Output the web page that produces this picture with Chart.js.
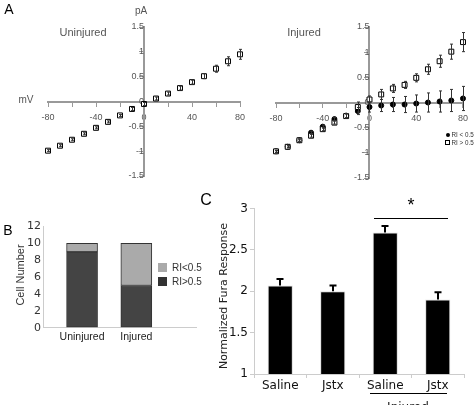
<!DOCTYPE html>
<html>
<head>
<meta charset="utf-8">
<script src="https://cdn.jsdelivr.net/npm/chart.js@4.4.0/dist/chart.umd.min.js"></script>
<style>
body { margin: 0; background: #fff; }
#wrap { position: relative; width: 475px; height: 405px; overflow: hidden; font-family: "Liberation Sans", Arial, sans-serif; }
canvas { position: absolute; left: 0; top: 0; }
.t { position: absolute; white-space: nowrap; line-height: 1; transform: translate(-50%, -50%); }
.l { position: absolute; white-space: nowrap; line-height: 1; transform: translateY(-50%); }
.rot { position: absolute; white-space: nowrap; line-height: 1; transform: translate(-50%, -50%) rotate(-90deg); }
.hl { position: absolute; height: 1.5px; background: #000; }
.sw { position: absolute; box-sizing: border-box; }
</style>
</head>
<body>
<div id="wrap">
  <canvas id="ivUninj" width="475" height="405"></canvas>
  <canvas id="ivInj" width="475" height="405"></canvas>
  <canvas id="cells" width="475" height="405"></canvas>
  <canvas id="fura" width="475" height="405"></canvas>

  <div class="t" style="left:9px;top:9px;font-size:14px;">A</div>
  <div class="t" style="left:141px;top:11px;font-size:10px;color:#555;">pA</div>
  <div class="t" style="left:83px;top:32px;font-size:11px;color:#555;">Uninjured</div>
  <div class="t" style="left:304px;top:32px;font-size:11px;color:#555;">Injured</div>
  <div class="t" style="left:26px;top:100px;font-size:10px;color:#555;">mV</div>

  <div class="sw" style="left:446px;top:133px;width:4px;height:4px;border-radius:50%;background:#000;"></div>
  <div class="l" style="left:451.5px;top:135px;font-size:6.3px;color:#333;">RI &lt; 0.5</div>
  <div class="sw" style="left:445px;top:140px;width:5px;height:5px;border:1px solid #000;"></div>
  <div class="l" style="left:451.5px;top:142.5px;font-size:6.3px;color:#333;">RI &gt; 0.5</div>

  <div class="t" style="left:8px;top:230px;font-size:14px;">B</div>
  <div class="rot" style="left:20px;top:275px;font-size:11px;color:#333;">Cell Number</div>
  <div class="sw" style="left:158px;top:263px;width:9px;height:9px;background:#aaa;"></div>
  <div class="l" style="left:172px;top:267.5px;font-size:10px;color:#333;">RI&lt;0.5</div>
  <div class="sw" style="left:158px;top:277px;width:9px;height:9px;background:#333;"></div>
  <div class="l" style="left:172px;top:281.5px;font-size:10px;color:#333;">RI&gt;0.5</div>

  <div class="t" style="left:206px;top:200px;font-size:16px;">C</div>
  <div class="rot" style="left:223px;top:296px;font-size:11px;color:#222;font-family:'DejaVu Sans',sans-serif;">Normalized Fura Response</div>
  <div class="t" style="left:411px;top:205px;font-size:18px;">*</div>
  <div class="hl" style="left:374px;top:217.5px;width:74px;"></div>
  <div class="hl" style="left:370px;top:392.5px;width:77px;"></div>
  <div style="position:absolute;left:408px;top:401px;transform:translateX(-50%);font-size:12px;line-height:1;font-family:'DejaVu Sans',sans-serif;color:#222;">Injured</div>
</div>
<script>
// A: current-voltage relations
const voltages = [-80, -70, -60, -50, -40, -30, -20, -10, 0, 10, 20, 30, 40, 50, 60, 70, 80];
const uninjuredCurrent = [-0.99, -0.89, -0.77, -0.65, -0.53, -0.41, -0.28, -0.15, -0.05, 0.06, 0.16, 0.27, 0.39, 0.51, 0.66, 0.81, 0.95];
const uninjuredErr = [0.02, 0.02, 0.02, 0.02, 0.02, 0.02, 0.02, 0.03, 0.03, 0.03, 0.03, 0.04, 0.04, 0.05, 0.07, 0.09, 0.1];
const injuredHighRI = [-0.97, -0.88, -0.75, -0.66, -0.53, -0.4, -0.27, -0.09, 0.06, 0.16, 0.28, 0.35, 0.49, 0.66, 0.82, 1.01, 1.2];
const injuredHighErr = [0.02, 0.02, 0.03, 0.03, 0.03, 0.03, 0.04, 0.1, 0.07, 0.1, 0.08, 0.07, 0.08, 0.1, 0.12, 0.15, 0.19];
const injuredLowRI = [-0.97, -0.88, -0.75, -0.6, -0.48, -0.33, -0.26, -0.17, -0.09, -0.06, -0.04, -0.04, -0.02, 0.0, 0.02, 0.04, 0.08];
const injuredLowErr = [0.02, 0.02, 0.02, 0.03, 0.03, 0.03, 0.04, 0.07, 0.1, 0.12, 0.14, 0.16, 0.17, 0.19, 0.21, 0.22, 0.24];

// B: cell counts
const cellGroups = ['Uninjured', 'Injured'];
const cellsRIhigh = [9, 5];
const cellsRIlow = [1, 5];

// C: fura responses
const furaLabels = ['Saline', 'Jstx', 'Saline', 'Jstx'];
const furaMean = [2.07, 2.0, 2.71, 1.9];
const furaErr = [0.08, 0.07, 0.08, 0.09];

const tickFont = { family: "'Liberation Sans Narrow', 'Liberation Sans', Arial", size: 9 };

const errorBars = {
  id: 'errorBars',
  afterDatasetsDraw(chart, args, opts) {
    const ctx = chart.ctx;
    const ys = chart.scales.y;
    chart.data.datasets.forEach((ds, i) => {
      if (!ds.errors) return;
      const meta = chart.getDatasetMeta(i);
      ctx.save();
      ctx.strokeStyle = opts.color;
      ctx.lineWidth = opts.width;
      meta.data.forEach((el, j) => {
        const raw = ds.data[j];
        const v = typeof raw === 'object' ? raw.y : raw;
        const e = ds.errors[j];
        const x = Math.round(el.x) + (opts.width % 2 ? 0.5 : 0);
        const top = ys.getPixelForValue(v + e);
        const bot = opts.upOnly ? ys.getPixelForValue(v) : ys.getPixelForValue(v - e);
        ctx.beginPath();
        ctx.moveTo(x, bot);
        ctx.lineTo(x, top);
        ctx.moveTo(x - opts.cap, top);
        ctx.lineTo(x + opts.cap, top);
        if (!opts.upOnly) {
          ctx.moveTo(x - opts.cap, bot);
          ctx.lineTo(x + opts.cap, bot);
        }
        ctx.stroke();
      });
      ctx.restore();
    });
  }
};

function ivOptions(pad) {
  return {
    responsive: false,
    animation: false,
    events: [],
    layout: { padding: pad },
    plugins: {
      legend: { display: false },
      tooltip: { enabled: false },
      errorBars: { color: '#333', width: 1, cap: 1.5 }
    },
    scales: {
      x: {
        type: 'linear', min: -80, max: 80,
        position: { y: 0 },
        afterFit: s => { s.height = 0; },
        border: { color: '#999', width: 2 },
        grid: { drawOnChartArea: false, color: '#999', tickLength: 4 },
        ticks: {
          stepSize: 20, autoSkip: false, maxRotation: 0, padding: 7,
          color: '#555', font: tickFont,
          callback: v => (v % 40 === 0 ? String(v) : '')
        }
      },
      y: {
        type: 'linear', min: -1.5, max: 1.5,
        position: { x: 0 },
        afterFit: s => { s.width = 0; },
        border: { color: '#999', width: 2 },
        grid: { drawOnChartArea: false, color: '#999', tickLength: 4 },
        ticks: {
          stepSize: 0.5, autoSkip: false, padding: 2,
          color: '#555', font: tickFont,
          callback: v => String(v)
        }
      }
    }
  };
}

function points(ys) {
  return voltages.map((v, i) => ({ x: v, y: ys[i] }));
}

new Chart(document.getElementById('ivUninj'), {
  type: 'scatter',
  data: {
    datasets: [{
      label: 'Uninjured',
      data: points(uninjuredCurrent),
      errors: uninjuredErr,
      pointStyle: 'rect', pointRadius: 3.5,
      backgroundColor: '#fff', borderColor: '#000', borderWidth: 1,
      clip: false
    }]
  },
  options: ivOptions({ left: 48, top: 27, right: 235, bottom: 229 }),
  plugins: [errorBars]
});

new Chart(document.getElementById('ivInj'), {
  type: 'scatter',
  data: {
    datasets: [{
      label: 'RI > 0.5',
      data: points(injuredHighRI),
      errors: injuredHighErr,
      pointStyle: 'rect', pointRadius: 3.5,
      backgroundColor: '#fff', borderColor: '#000', borderWidth: 1,
      clip: false
    }, {
      label: 'RI < 0.5',
      data: points(injuredLowRI),
      errors: injuredLowErr,
      pointStyle: 'circle', pointRadius: 2.5,
      backgroundColor: '#000', borderColor: '#000', borderWidth: 1,
      clip: false
    }]
  },
  options: ivOptions({ left: 276, top: 27, right: 8, bottom: 227 }),
  plugins: [errorBars]
});

new Chart(document.getElementById('cells'), {
  type: 'bar',
  data: {
    datasets: [{
      label: 'RI>0.5',
      data: cellGroups.map((g, i) => ({ x: i + 1, y: cellsRIhigh[i] })),
      backgroundColor: '#444', borderColor: '#333', borderWidth: 1, borderSkipped: false,
      barThickness: 31
    }, {
      label: 'RI<0.5',
      data: cellGroups.map((g, i) => ({ x: i + 1, y: cellsRIlow[i] })),
      backgroundColor: '#aaa', borderColor: '#333', borderWidth: 1, borderSkipped: false,
      barThickness: 31
    }]
  },
  options: {
    responsive: false,
    animation: false,
    events: [],
    layout: { padding: { left: 3, top: 226.5, right: 279, bottom: 57.3 } },
    plugins: { legend: { display: false }, tooltip: { enabled: false } },
    scales: {
      x: {
        type: 'linear', min: 0.28, max: 3.1, stacked: true, offset: false,
        afterFit: s => { s.height = 20; },
        afterBuildTicks: s => { s.ticks = cellGroups.map((g, i) => ({ value: i + 1 })); },
        border: { color: '#ccc', width: 1 },
        grid: { drawOnChartArea: false, drawTicks: false, offset: false },
        ticks: {
          autoSkip: false, maxRotation: 0, padding: 3, color: '#222',
          font: { family: "'Liberation Sans', Arial", size: 10.5 },
          callback: v => cellGroups[v - 1] || ''
        }
      },
      y: {
        min: 0, max: 12, stacked: true,
        afterFit: s => { s.width = 40; },
        border: { color: '#ccc', width: 1 },
        grid: { drawOnChartArea: false, drawTicks: false },
        ticks: {
          stepSize: 2, padding: 2, color: '#333',
          font: { family: "'DejaVu Sans'", size: 11 }
        }
      }
    }
  }
});

new Chart(document.getElementById('fura'), {
  type: 'bar',
  data: {
    labels: furaLabels,
    datasets: [{
      data: furaMean,
      errors: furaErr,
      backgroundColor: '#000', borderColor: '#ddd', borderWidth: 1, borderSkipped: 'start',
      categoryPercentage: 1, barPercentage: 0.48
    }]
  },
  options: {
    responsive: false,
    animation: false,
    events: [],
    layout: { padding: { left: 214, top: 208.6, right: 11, bottom: 9 } },
    plugins: {
      legend: { display: false },
      tooltip: { enabled: false },
      errorBars: { color: '#000', width: 2, cap: 3.5, upOnly: true }
    },
    scales: {
      x: {
        afterFit: s => { s.height = 22; },
        border: { color: '#ccc', width: 1 },
        grid: { drawOnChartArea: false, color: '#ccc', tickLength: 4 },
        ticks: {
          autoSkip: false, maxRotation: 0, padding: 1, color: '#111',
          font: { family: "'DejaVu Sans'", size: 12 }
        }
      },
      y: {
        min: 1, max: 3,
        afterFit: s => { s.width = 40; },
        border: { color: '#ccc', width: 1 },
        grid: { drawOnChartArea: false, color: '#ccc', tickLength: 4 },
        ticks: {
          stepSize: 0.5, padding: 2, color: '#111',
          font: { family: "'DejaVu Sans'", size: 12 },
          callback: v => String(v)
        }
      }
    }
  },
  plugins: [errorBars]
});
</script>
</body>
</html>
